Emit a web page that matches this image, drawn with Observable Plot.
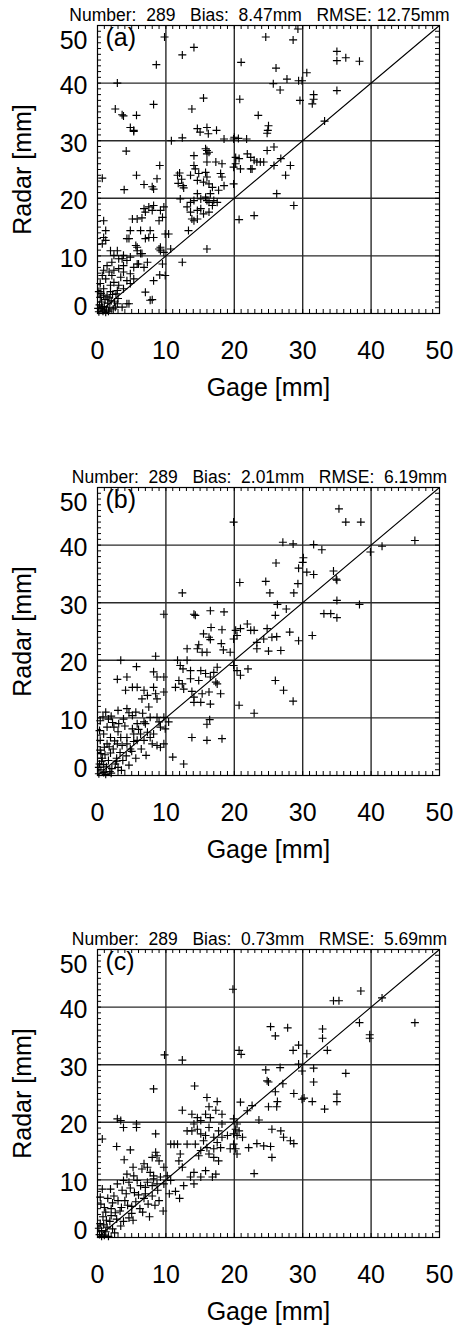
<!DOCTYPE html>
<html><head><meta charset="utf-8">
<script src="https://cdn.jsdelivr.net/npm/d3@7"></script>
<script src="https://cdn.jsdelivr.net/npm/@observablehq/plot@0.6"></script>
<style>
body{margin:0;background:#fff;}
#chart svg{display:block;}
</style></head><body><div id="chart"></div>
<script>
// ---- data: [gage mm, radar mm] ----
const pointsA = [
[2.9,40],[9.8,48],[8.6,43.2],[12.4,44.9],[14.1,46.2],[8.2,36.3],[2.6,35.5],[3.6,34.5],[3.8,34.3],[5.7,34.4],[4.8,32.3],[5.3,31.8],
[15.5,37.4],[13.8,35.5],[14.6,32.1],[16.0,32.3],[17.4,31.8],[24.6,48.0],[28.6,47.5],[29.3,49.4],[21.0,43.6],[26.1,42.6],[27.7,40.7],
[25.7,39.9],[26.7,38.8],[29.4,40.4],[29.9,40.4],[30.6,41.8],[20.8,37.2],[23.5,34.4],[24.9,31.8],[25.0,32.6],[29.6,37.0],[31.6,38.0],
[31.6,37.2],[31.4,36.4],[35.0,45.5],[35.0,43.9],[36.3,44.4],[38.3,43.8],[35.0,38.7],[33.2,33.4],
[0.7,23.5],[4.2,28.2],[5.3,31.6],[5.7,24.0],[3.9,21.5],[6.8,22.4],[8.0,22.0],[8.2,21.6],[8.7,23.4],[9.1,25.7],[10.8,30.0],[12.4,30.5],
[15.0,31.5],[16.2,31.2],[18.5,30.3],[19.9,30.3],[20.6,30.4],[21.8,30.3],[20.0,30.6],[24.8,31.3],[16.0,28.3],[16.3,28.0],[14.1,27.4],
[11.7,24.0],[12.0,24.4],[12.3,23.3],[12.5,22.2],[11.8,22.6],[12.6,21.8],
[14.1,25.7],[14.3,25.1],[13.6,24.0],[14.8,24.3],[15.8,24.5],[16.0,23.7],[14.6,23.1],[15.5,22.8],[16.3,22.5],[16.8,21.9],
[15.8,28.6],[16.0,27.7],[16.0,26.3],[17.3,26.3],[18.2,26.0],[18.0,24.3],[18.2,23.7],[18.5,22.2],[17.7,21.4],
[20.2,27.1],[20.7,26.9],[21.9,27.7],[22.4,27.1],[22.9,26.6],[23.3,26.3],[23.8,26.3],[24.3,26.3],[22.6,25.1],[19.9,22.5],[20.2,26.0],
[19.9,25.4],[20.9,25.1],[22.4,25.1],[25.8,25.7],[26.8,26.9],[25.8,28.9],[24.8,28.3],[27.5,24.0],[28.2,25.7],[26.2,20.8],[28.7,18.75],
[16.0,11.2],[22.9,17.0],[20.7,16.3],[12.4,8.9],
[13.6,19.3],[14.1,19.6],[15.1,19.9],[15.8,20.2],[16.3,19.3],[16.8,18.75],[15.1,18.2],[14.6,17.9],[13.6,17.6],[14.1,16.1],[13.3,14.4],
[15.5,17.3],[16.3,17.6],[16.0,19.6],[17.0,19.6],[17.5,19.3],[16.5,20.8],[14.6,20.8],[13.1,18.5],[12.1,19.9],[13.8,16.4],[14.6,16.4],
[0.9,16.1],[0.9,13.2],[1.2,12.7],[0.7,12.1],[1.2,14.4],
[5.1,16.4],[5.8,16.4],[6.5,16.6],[4.8,14.4],[4.3,13.0],[7.0,17.6],[6.8,18.2],[8.0,17.9],[7.5,18.5],[8.2,18.75],[9.2,17.9],[9.5,16.7],
[9.7,18.5],[9.0,16.1],[7.7,14.4],[8.2,13.2],[7.5,13.2],[7.0,13.0],[6.3,14.4],[5.8,11.5],[9.0,11.2],[9.7,10.6],[10.7,11.2],[10.4,13.8],
[9.9,13.8],[9.2,11.5],[9.2,10.9],[5.6,11.8],[4.6,13.0],
[1.9,10.9],[2.4,10.1],[3.8,10.1],[4.8,9.8],[6.3,10.4],[2.1,8.9],[3.1,9.5],[4.3,9.2],[5.8,8.6],[7.3,8.9],[5.3,8.0],[3.8,8.3],[6.8,8.0],
[1.4,8.3],[2.9,10.9],[3.6,9.5],[6.0,8.6],[6.5,10.4],[5.8,10.9],[9.5,8.6],
[9.9,6.6],[9.1,6.7],[8.2,5.7],[7.0,3.7],[7.7,2.3],[8.0,2.4],[4.6,1.7],[3.6,1.1],[2.6,1.1],[4.3,1.7],[2.9,1.7],
[0.7,6.6],[1.2,6.0],[0.4,5.2],[0.9,4.3],[1.9,4.9],[2.4,5.4],[3.1,4.9],[2.9,4.0],[3.8,4.3],[4.8,5.2],[4.3,5.7],[5.3,6.0],[3.4,6.3],
[2.1,6.6],[1.7,7.2],[0.9,7.5],[2.4,7.5],[3.1,7.8],[3.8,7.2],[4.8,6.9],
[0.2,0.3],[0.5,0.8],[0.8,0.4],[1.0,1.2],[1.3,0.6],[0.3,1.5],[0.6,2.0],[1.1,2.4],[1.5,1.8],[1.8,1.0],[2.0,2.2],[0.4,2.8],[0.9,3.2],
[1.4,3.0],[2.2,3.3],[1.7,2.7],[0.2,3.8],[2.5,2.0],[0.7,1.1],[1.2,0.2],[0.1,0.9],[1.6,0.4],[2.3,0.8],[0.5,3.5],[1.9,3.8],[3.0,2.6],[2.7,3.4]
];
const pointsB = [
[19.9,44.0],[35.3,46.3],[36.3,44.0],[38.5,44.0],[27.1,40.5],[28.6,40.2],[31.6,40.1],[32.8,39.2],[39.9,38.8],[41.6,39.8],[46.4,40.8],
[30.1,37.8],[30.0,37.0],[26.1,36.9],[29.4,36.0],[30.6,35.3],[31.6,34.9],[34.5,35.5],[34.9,34.1],[20.8,33.5],[24.6,33.7],[29.3,33.3],
[12.4,31.7],[25.2,31.7],[28.7,31.7],[35.0,33.9],[35.0,30.4],[38.3,29.7],[33.1,28.1],[34.1,28.1],[35.0,27.4],[31.4,24.3],[29.4,23.4],
[28.1,24.9],[27.6,28.9],[26.3,29.7],[26.0,27.8],
[24.8,25.5],[26.2,24.1],[25.5,24.0],[24.3,23.7],[23.3,22.0],[25.0,21.6],[26.8,21.7],[23.3,23.1],[22.9,25.2],[21.9,26.3],[22.4,25.2],
[20.9,25.5],[20.2,25.2],[20.4,24.3],[19.9,23.7],[19.4,21.4],[19.9,19.1],[20.4,18.2],[20.9,17.4],[22.0,18.5],
[26.0,16.5],[27.2,14.8],[28.6,12.9],[20.7,12.2],[22.9,10.8],[16.4,9.7],[16.0,8.9],[13.8,6.6],[16.0,6.1],[18.2,6.4],
[9.7,28.0],[14.1,28.0],[14.3,27.8],[16.5,28.6],[18.5,28.4],[16.6,25.7],[18.2,25.3],[15.5,24.6],[16.3,24.0],[16.5,23.6],[14.8,22.7],
[14.6,22.0],[15.3,21.4],[13.1,22.0],[16.0,21.4],[18.1,22.9],[18.4,21.8],
[11.7,20.0],[12.1,19.1],[13.1,20.0],[13.6,18.2],[12.5,18.5],[11.9,16.5],[12.4,15.9],[11.4,15.3],[12.6,15.0],[13.6,16.8],[15.1,18.2],
[15.8,17.7],[16.5,17.1],[17.0,17.9],[17.5,18.8],[17.3,16.2],[17.5,15.9],[18.0,14.2],[16.3,14.5],[15.3,14.2],[14.1,13.6],[15.1,12.7],
[14.1,12.7],[13.8,14.6],[16.5,12.4],[14.8,16.5],
[3.4,20.0],[5.7,18.9],[8.5,20.7],[8.2,18.0],[2.9,16.7],[4.3,17.1],[4.1,14.8],[5.1,15.3],[5.8,15.3],[6.8,14.8],[7.3,13.9],[6.5,13.3],
[7.5,11.9],[8.5,14.2],[8.2,15.3],[8.7,17.1],[9.7,17.1],[9.7,14.5],[8.7,13.3],
[1.2,11.0],[0.4,9.5],[1.4,8.4],[2.4,8.4],[3.1,9.0],[3.8,9.8],[4.3,11.6],[5.1,10.4],[5.6,11.0],[5.1,8.1],[5.8,9.0],[6.8,9.3],[7.7,10.1],
[8.7,10.1],[9.0,9.3],[9.2,8.4],[9.7,10.1],[9.9,8.1],[10.4,9.3],[8.2,7.2],[7.7,6.6],[7.3,7.5],[6.3,7.2],[5.3,7.2],[4.3,6.6],[3.4,6.6],
[1.9,6.6],[0.9,7.2],[0.4,6.1],[1.4,5.5],[2.9,5.5],[4.3,5.5],[5.8,6.1],[6.8,6.1],[8.0,5.5],[8.7,5.2],[9.7,5.5],[9.2,4.9],[4.6,10.9],
[2.0,10.3],[3.0,11.3],
[0.2,0.3],[0.5,1.0],[0.9,0.5],[1.3,1.5],[0.3,2.0],[1.6,2.6],[2.1,1.2],[2.6,2.0],[0.7,3.0],[1.1,3.6],[1.9,3.9],[2.8,3.0],[3.3,4.0],
[0.4,4.4],[3.7,2.6],[4.2,3.4],[5.0,4.2],[5.6,3.0],[6.4,4.6],[7.1,3.5],[2.3,4.6],[0.2,1.4],[1.2,0.2],[1.8,0.7],[3.0,1.4],[4.6,1.8],
[0.6,2.5],[12.6,2.0],[11.0,3.2],
[0.5,3.8],[1.0,4.9],[1.7,5.0],[2.5,6.0],[3.6,5.2],[4.8,4.6],[5.3,5.9],[6.0,8.0],[7.0,9.0],[3.0,7.6],[2.2,9.2],[0.8,10.2],[1.6,9.8],
[4.0,8.6],[6.6,10.8],[0.3,7.8],[0.9,1.9],[2.0,0.4],[3.5,0.9],[2.8,2.5]
];
const pointsC = [
[19.8,43.1],[38.5,42.8],[34.5,41.1],[35.3,41.1],[41.6,41.6],[25.3,36.6],[27.8,36.4],[32.9,36.2],[38.3,37.3],[46.4,37.3],[26.0,35.0],
[32.9,34.6],[39.8,35.2],[39.8,34.6],[9.8,31.7],[12.4,30.8],[20.7,32.5],[21.0,31.8],[28.6,32.5],[29.4,33.4],[30.6,31.9],[33.6,32.5],
[26.7,29.5],[29.4,30.1],[29.9,28.9],[31.6,29.4],[36.3,28.5],[24.6,29.1],[24.8,27.2],[25.0,27.0],[27.1,26.7],[31.6,27.0],[28.7,25.0],
[29.9,24.0],[30.2,24.2],[31.4,23.6],[35.0,24.9],[35.0,23.6],[33.2,22.3],[26.3,23.6],[25.0,22.7],[26.2,22.7],[26.0,25.3],
[20.9,23.5],[21.9,22.0],[22.6,22.9],[23.6,20.4],[25.5,18.8],[26.8,18.5],[27.2,17.4],[28.2,16.8],[28.7,16.3],[25.5,13.9],[24.3,15.9],
[25.3,15.8],[23.3,16.3],[22.1,15.6],[22.9,11.1],
[19.9,20.6],[20.4,19.7],[20.2,18.8],[20.7,18.5],[19.9,18.0],[20.4,17.7],[21.2,17.4],[19.9,16.2],[20.2,15.4],[20.4,14.5],[19.4,15.4],
[19.0,17.7],[18.2,19.7],[18.2,21.4],
[14.2,26.3],[16.0,24.3],[17.5,23.6],[16.3,22.7],[17.3,22.1],[15.8,21.4],[16.5,20.8],[15.1,20.3],[14.1,19.7],[14.6,18.8],[13.8,18.5],
[15.1,18.0],[15.8,17.7],[16.3,19.1],[17.0,17.4],[17.5,16.5],[18.2,17.4],[17.7,18.5],[18.0,15.6],[17.0,15.4],[16.0,15.6],[16.3,14.5],
[15.1,15.1],[14.8,14.2],[17.0,13.9],[17.7,13.3],[17.3,11.0],[16.8,10.5],[15.8,11.6],[15.1,10.5],[14.1,11.3],[13.6,10.5],[14.1,9.3],
[12.6,9.0],[12.4,12.2],[12.1,14.5],[11.9,13.3],[10.7,16.2],[11.2,16.2],[11.7,16.2],[12.4,22.1],[13.1,18.5],[13.1,16.2],[14.3,16.2],
[15.5,16.8],[14.6,20.8],[13.8,21.4],
[0.7,17.1],[2.9,20.6],[3.4,20.3],[3.8,19.1],[5.7,19.7],[5.7,19.1],[8.2,25.8],[8.5,18.0],[2.8,15.8],[4.8,15.2],[3.9,13.5],[5.2,12.2],
[6.8,12.8],[7.3,12.2],[6.5,11.9],[7.7,11.3],[8.2,10.7],[8.0,13.9],[8.5,14.8],[8.7,14.2],[9.0,13.3],[9.7,12.2],[5.3,10.7],[4.3,11.0],
[4.6,9.6],[5.8,9.9],[6.3,9.0],[7.3,9.6],[8.2,10.2],[8.7,9.3],[9.2,10.5],[10.2,10.7],[10.7,9.9],[9.7,9.3],[8.0,9.0],[7.0,8.7],[3.8,9.9],
[2.9,9.3],[0.7,8.4],[1.9,8.4],
[0.3,0.5],[0.6,1.2],[1.0,0.4],[1.4,1.8],[0.4,2.4],[1.8,2.8],[2.2,1.5],[2.8,3.2],[0.8,3.6],[1.2,4.4],[2.0,5.0],[3.3,4.6],[3.8,2.8],
[4.4,5.6],[5.0,4.2],[5.6,6.2],[6.2,5.0],[6.8,6.8],[7.4,5.8],[8.0,7.2],[3.0,6.4],[1.5,6.8],[0.5,5.8],[2.4,7.2],[4.2,7.6],[5.4,7.8],
[9.0,6.4],[10.5,7.6],[11.4,8.0],[12.0,6.8],[9.6,4.6],[7.6,3.6],[0.2,1.6],[1.6,0.2],[2.5,0.8],[3.4,2.0],[4.6,3.4],
[0.9,2.2],[1.3,3.0],[2.0,3.8],[2.6,4.3],[3.5,5.2],[4.0,6.4],[5.0,5.4],[6.0,7.4],[7.0,7.6],[1.0,5.2],[0.4,7.0],[2.2,6.0],[3.6,8.2],
[4.8,8.6],[5.2,3.0],[6.6,4.4],[8.4,5.6],[8.8,8.2],[1.2,1.0],[0.6,0.2]
];
const panelPoints = [pointsA, pointsB, pointsC];
const panelLabels = ["(a)", "(b)", "(c)"];
const numbers = [289, 289, 289];
const biases = ["8.47", "2.01", "0.73"];
const rmses = ["12.75", "6.19", "5.69"];
const xTicks = [0, 10, 20, 30, 40, 50];
const yTicksInner = [10, 20, 30, 40];
const yTickTop = [50];
const yTickBottom = [0];
const gridTicks = [10, 20, 30, 40];
const minorTicks = d3.range(0, 51, 1);
const oneToOne = [0, 50];
const panelHeights = [462, 462, 401];

// stroked "+" symbol
const crossSymbol = {
  draw(ctx, size) {
    const r = Math.sqrt(size / Math.PI);
    ctx.moveTo(-r, 0); ctx.lineTo(r, 0);
    ctx.moveTo(0, -r); ctx.lineTo(0, r);
  }
};

const FONT = "'Liberation Sans', Arial, Helvetica, sans-serif";
const NB = "\u00a0";

function panel(i) {
  const height = panelHeights[i];
  const mT = 25, mL = 97, mR = 18, frameH = 288, frameW = 457 - mL - mR;
  const title = `Number:${NB}${NB}${numbers[i]}${NB}${NB}${NB}Bias:${NB}${NB}${biases[i]}mm${NB}${NB}${NB}RMSE:${NB}${rmses[i].length < 5 ? NB : ""}${rmses[i]}mm`;
  const yAxisStyle = {tickSize: 0, tickPadding: 10, fontSize: 25, label: null};
  return Plot.plot({
    width: 457,
    height,
    marginTop: mT,
    marginLeft: mL,
    marginRight: mR,
    marginBottom: height - mT - frameH,
    style: {fontFamily: FONT, fontSize: "25px", color: "black", background: "white", overflow: "visible"},
    x: {domain: [0, 50]},
    y: {domain: [0, 50]},
    marks: [
      Plot.gridX(gridTicks, {stroke: "#2a2a2a", strokeOpacity: 1, strokeWidth: 1.4}),
      Plot.gridY(gridTicks, {stroke: "#2a2a2a", strokeOpacity: 1, strokeWidth: 1.4}),
      Plot.tickX(minorTicks, {x: d => d, insetTop: frameH - 4, stroke: "black", strokeWidth: 1}),
      Plot.tickX(minorTicks, {x: d => d, insetBottom: frameH - 4, stroke: "black", strokeWidth: 1}),
      Plot.tickY(minorTicks, {y: d => d, insetRight: frameW - 4, stroke: "black", strokeWidth: 1}),
      Plot.tickY(minorTicks, {y: d => d, insetLeft: frameW - 4, stroke: "black", strokeWidth: 1}),
      Plot.line(oneToOne.map(v => [v, v]), {stroke: "black", strokeWidth: 1.1}),
      Plot.dot(panelPoints[i], {x: d => d[0], y: d => d[1], symbol: crossSymbol, r: 4, stroke: "black", fill: "none", strokeWidth: 1.15}),
      Plot.frame({stroke: "black", strokeWidth: 1.2}),
      Plot.axisX(xTicks, {tickSize: 0, tickPadding: 28, label: "Gage [mm]", labelAnchor: "center", labelOffset: 82, labelArrow: "none", fontSize: 25}),
      Plot.axisY(yTicksInner, {...yAxisStyle, dy: 3, label: "Radar [mm]", labelAnchor: "center", labelOffset: 84, labelArrow: "none"}),
      Plot.axisY(yTickTop, {...yAxisStyle, dy: 15}),
      Plot.axisY(yTickBottom, {...yAxisStyle, dy: -7}),
      Plot.text([panelLabels[i]], {text: d => d, frameAnchor: "top-left", dx: 8, dy: 3, lineAnchor: "top", textAnchor: "start", fontSize: 25}),
      Plot.text([title], {text: d => d, frameAnchor: "top", dx: -9, dy: -10, lineAnchor: "middle", fontSize: 17.5})
    ]
  });
}

const chart = document.getElementById("chart");
for (let i = 0; i < 3; i++) chart.appendChild(panel(i));
</script>
</body></html>
